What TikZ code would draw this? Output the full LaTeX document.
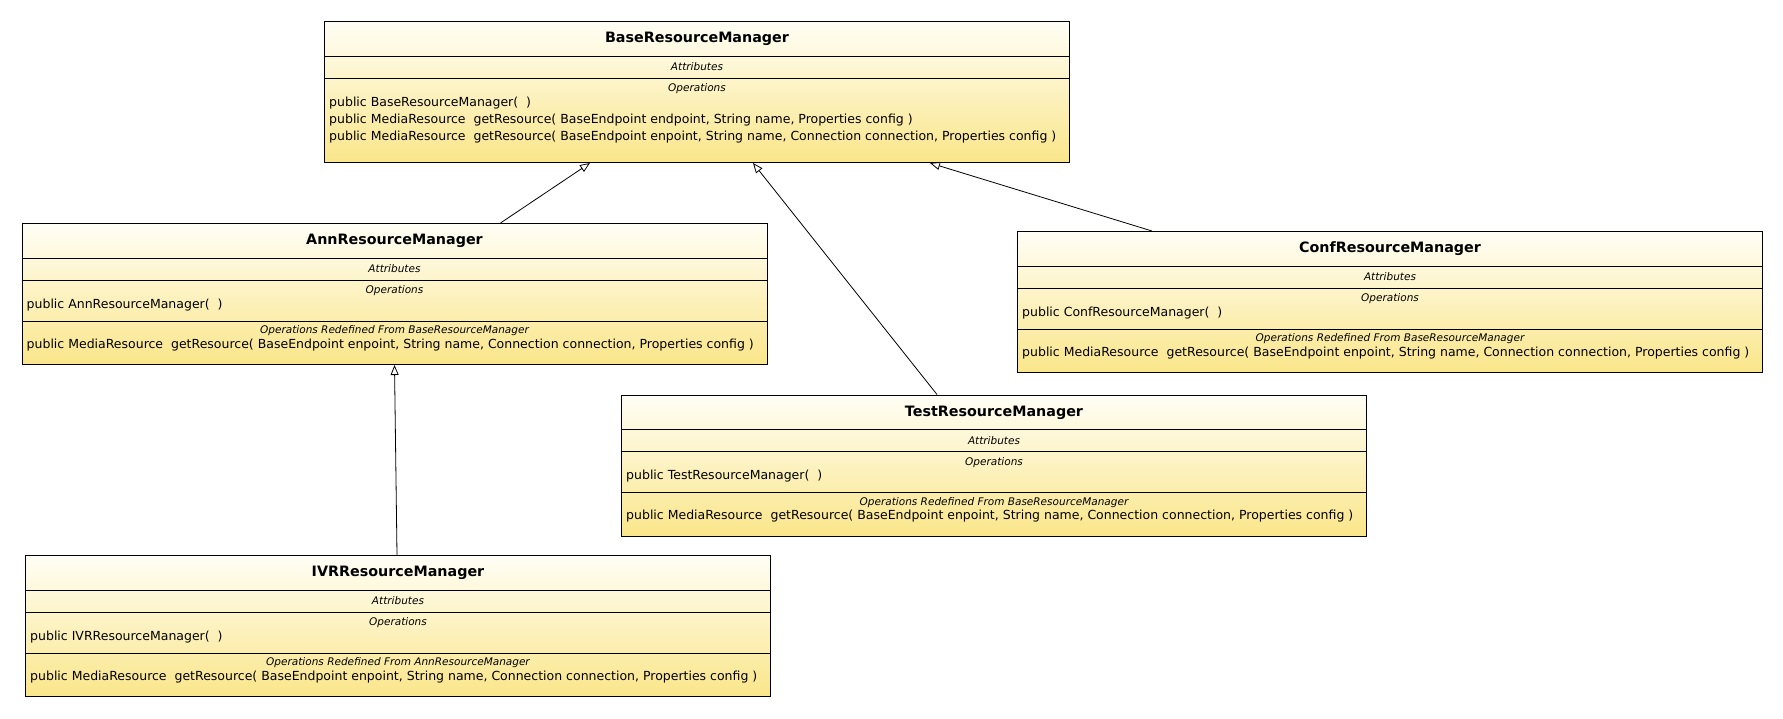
\documentclass[tikz,border=0pt]{standalone}
\usepackage{fontspec}
\setmainfont{DejaVu Sans}
\usetikzlibrary{arrows.meta}

\definecolor{umltop}{RGB}{255,254,246}
\definecolor{umlbot}{RGB}{250,230,138}

\tikzset{
  classbox/.style={draw=black, line width=1pt, inner sep=0pt,
    minimum width=745pt, minimum height=141pt,
    top color=umltop, bottom color=umlbot, anchor=north west},
  cname/.style={font=\fontsize{14.3}{16}\selectfont\bfseries, inner sep=0pt},
  clabel/.style={font=\fontsize{10.5}{12}\selectfont\itshape, inner sep=0pt},
  member/.style={font=\fontsize{12.5}{14}\selectfont, inner sep=0pt, anchor=west},
  sepline/.style={line width=1pt},
  inherit/.style={-{Triangle[open,length=10pt,width=8pt]}, line width=0.8pt},
}

% class frame: name, left, top, class name
\newcommand\umlclass[4]{%
  \node[classbox] (#1) at (#2,#3) {};
  \draw[sepline] ([yshift=-35pt]#1.north west) -- ([yshift=-35pt]#1.north east);
  \draw[sepline] ([yshift=-57pt]#1.north west) -- ([yshift=-57pt]#1.north east);
  \node[cname] (#1-name) at ([yshift=-18pt]#1.north) {#4};
  \node[clabel] (#1-attr) at ([yshift=-46pt]#1.north) {Attributes};
  \node[clabel] (#1-ops) at ([yshift=-68pt]#1.north) {Operations};
}
% redefined operations compartment: name, parent class
\newcommand\umlredef[2]{%
  \draw[sepline] ([yshift=-98pt]#1.north west) -- ([yshift=-98pt]#1.north east);
  \node[clabel] (#1-redef) at ([yshift=-108pt]#1.north) {Operations Redefined From #2};
  \node[member] (#1-getres) at ([xshift=5pt,yshift=-122pt]#1.north west)
    {public MediaResource\ \ getResource( BaseEndpoint enpoint, String name, Connection connection, Properties config )};
}

\begin{document}
\begin{tikzpicture}[x=1pt,y=-1pt]
\useasboundingbox (0,0) rectangle (1783,718);
\fill[white] (0,0) rectangle (1783,718);

% base class
\umlclass{base}{324}{21}{BaseResourceManager}
\node[member] (base-ctor) at ([xshift=5pt,yshift=-82pt]base.north west) {public BaseResourceManager(\ \ )};
\node[member] (base-get1) at ([xshift=5pt,yshift=-99pt]base.north west)
  {public MediaResource\ \ getResource( BaseEndpoint endpoint, String name, Properties config )};
\node[member] (base-get2) at ([xshift=5pt,yshift=-116.5pt]base.north west)
  {public MediaResource\ \ getResource( BaseEndpoint enpoint, String name, Connection connection, Properties config )};

% subclasses
\umlclass{ann}{21.5}{223}{AnnResourceManager}
\node[member] (ann-ctor) at ([xshift=5pt,yshift=-82pt]ann.north west) {public AnnResourceManager(\ \ )};
\umlredef{ann}{BaseResourceManager}

\umlclass{conf}{1017}{231}{ConfResourceManager}
\node[member] (conf-ctor) at ([xshift=5pt,yshift=-82pt]conf.north west) {public ConfResourceManager(\ \ )};
\umlredef{conf}{BaseResourceManager}

\umlclass{test}{621}{394.5}{TestResourceManager}
\node[member] (test-ctor) at ([xshift=5pt,yshift=-82pt]test.north west) {public TestResourceManager(\ \ )};
\umlredef{test}{BaseResourceManager}

\umlclass{ivr}{25}{555}{IVRResourceManager}
\node[member] (ivr-ctor) at ([xshift=5pt,yshift=-82pt]ivr.north west) {public IVRResourceManager(\ \ )};
\umlredef{ivr}{AnnResourceManager}

% generalizations
\draw[inherit] ([xshift=479pt]ann.north west) -- ([xshift=266pt]base.south west);
\draw[inherit] ([xshift=316pt]test.north west) -- ([xshift=429pt]base.south west);
\draw[inherit] ([xshift=135pt]conf.north west) -- ([xshift=606pt]base.south west);
\draw[inherit] ([xshift=372pt]ivr.north west) -- ([xshift=373pt]ann.south west);
\end{tikzpicture}
\end{document}
